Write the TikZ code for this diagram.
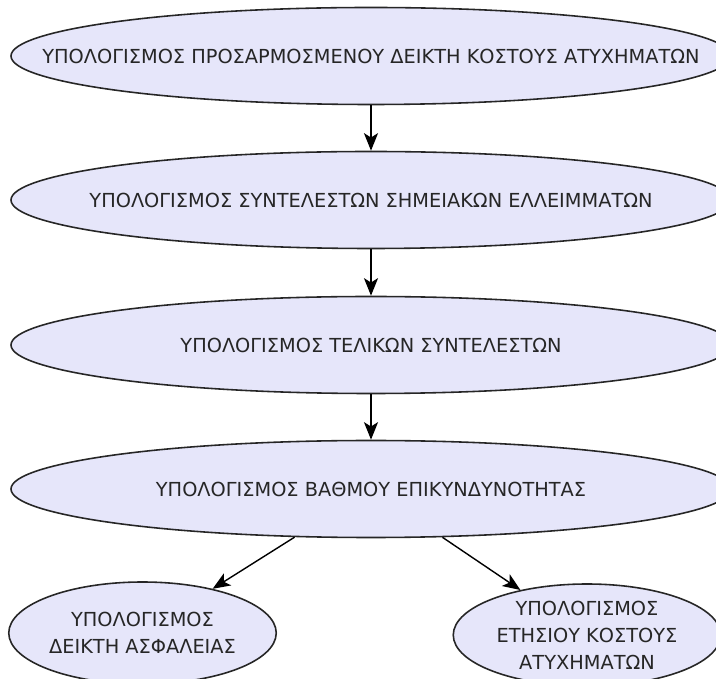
\documentclass[tikz,border=0pt]{standalone}
\usepackage{fontspec}
\setmainfont{DejaVu Sans}
\usetikzlibrary{arrows.meta,shapes.geometric}

\definecolor{lav}{RGB}{230,230,250}

\begin{document}
\begin{tikzpicture}[
    stage/.style={ellipse, draw=black!85, line width=0.9pt, fill=lav,
                  minimum width=14.4cm, minimum height=1.94cm, inner sep=0pt},
    leaf/.style={stage, minimum width=5.35cm, minimum height=2.04cm},
    flow/.style={-{Stealth[length=10pt, width=8pt, inset=2.5pt]}, line width=0.8pt},
    caption/.style={font=\fontsize{11}{15.4}\selectfont, text=black!85, align=center},
]
    \useasboundingbox[fill=white] (0,0) rectangle (14.32,-13.58);

    \node[stage, label={[caption]center:ΥΠΟΛΟΓΙΣΜΟΣ ΠΡΟΣΑΡΜΟΣΜΕΝΟΥ ΔΕΙΚΤΗ ΚΟΣΤΟΥΣ ΑΤΥΧΗΜΑΤΩΝ}]
        (index) at (7.42, -1.12) {};
    \node[stage, label={[caption]center:ΥΠΟΛΟΓΙΣΜΟΣ ΣΥΝΤΕΛΕΣΤΩΝ ΣΗΜΕΙΑΚΩΝ ΕΛΛΕΙΜΜΑΤΩΝ}]
        (deficit) at (7.42, -4.00) {};
    \node[stage, label={[caption]center:ΥΠΟΛΟΓΙΣΜΟΣ ΤΕΛΙΚΩΝ ΣΥΝΤΕΛΕΣΤΩΝ}]
        (factors) at (7.42, -6.90) {};
    \node[stage, label={[caption]center:ΥΠΟΛΟΓΙΣΜΟΣ ΒΑΘΜΟΥ ΕΠΙΚΥΝΔΥΝΟΤΗΤΑΣ}]
        (risk) at (7.42, -9.78) {};
    \node[leaf, label={[caption]center:{ΥΠΟΛΟΓΙΣΜΟΣ\\ΔΕΙΚΤΗ ΑΣΦΑΛΕΙΑΣ}}]
        (safety) at (2.85, -12.66) {};
    \node[leaf, label={[caption]center:{ΥΠΟΛΟΓΙΣΜΟΣ\\ΕΤΗΣΙΟΥ ΚΟΣΤΟΥΣ\\ΑΤΥΧΗΜΑΤΩΝ}}]
        (annual) at (11.74, -12.70) {};

    \draw[flow] (index) -- (deficit);
    \draw[flow] (deficit) -- (factors);
    \draw[flow] (factors) -- (risk);
    \draw[flow] (risk) -- (safety);
    \draw[flow] (risk) -- (annual);
\end{tikzpicture}
\end{document}
